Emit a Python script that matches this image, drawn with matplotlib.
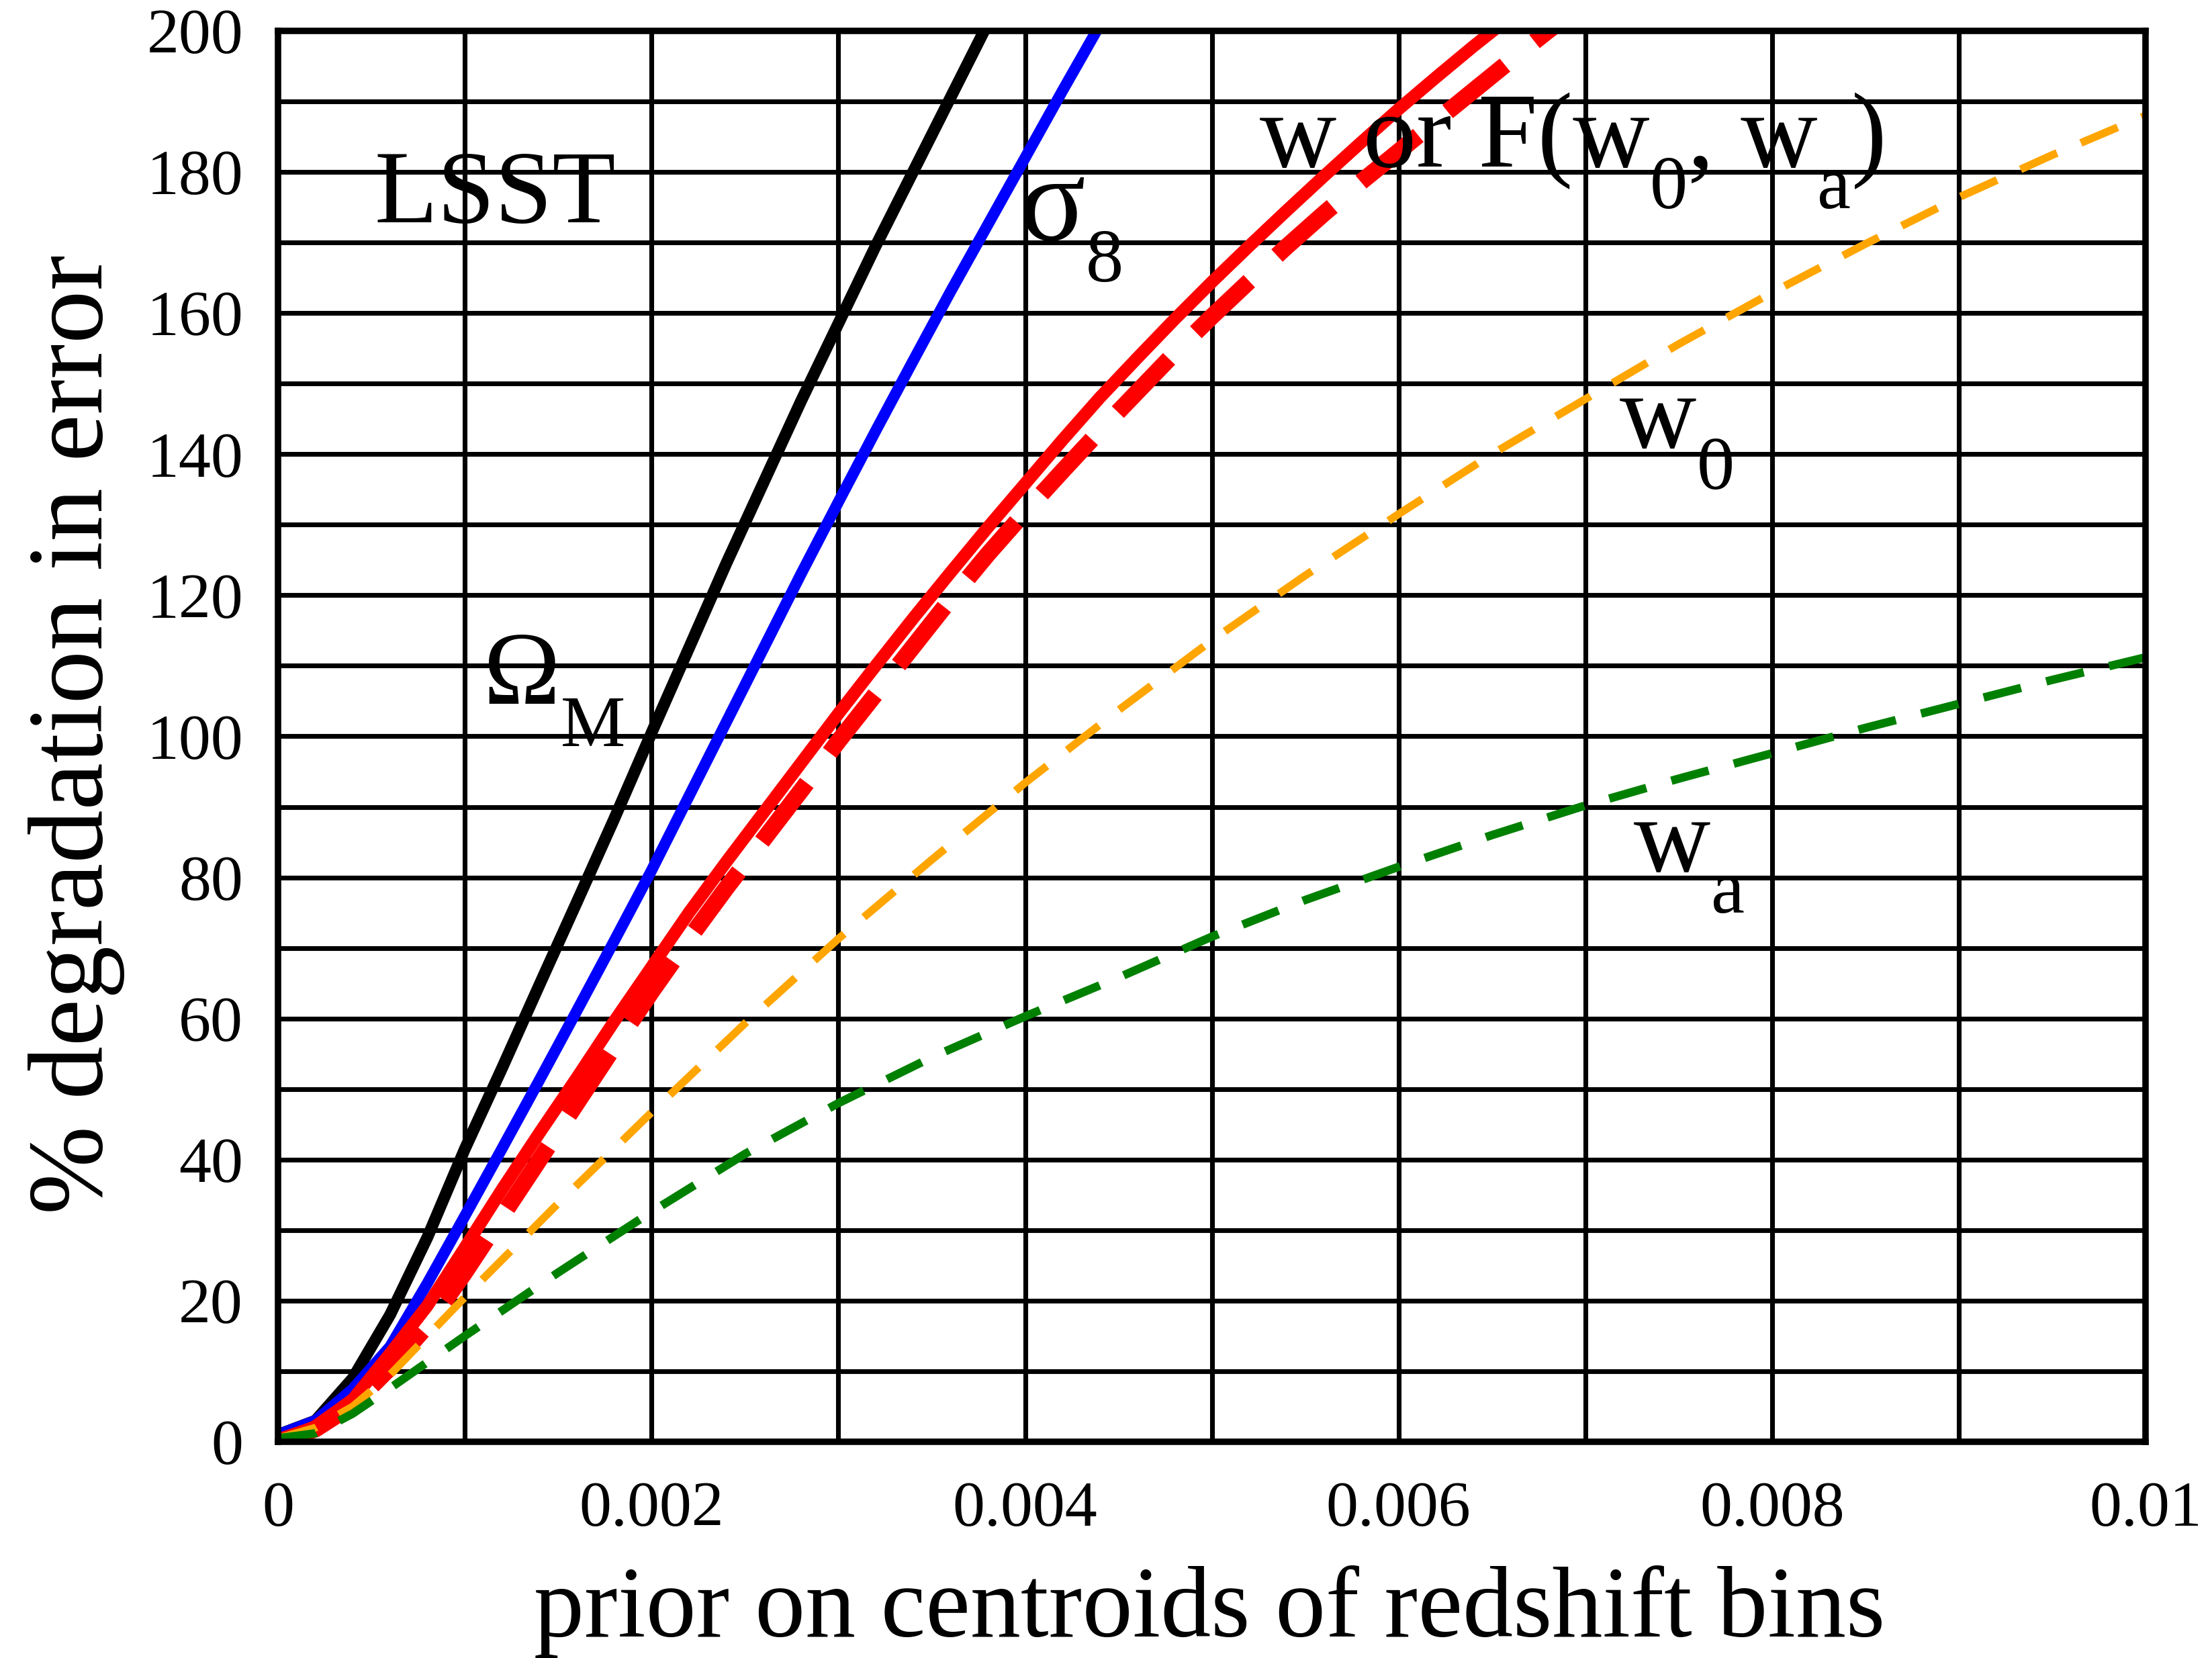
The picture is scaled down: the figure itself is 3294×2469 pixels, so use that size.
import matplotlib
matplotlib.use('Agg')
import matplotlib.pyplot as plt
import matplotlib.transforms as mtransforms

plt.rcParams['font.family'] = ['Liberation Serif', 'DejaVu Serif']

# ---------------- data ----------------
x_omega = [0.0, 0.0002, 0.0004, 0.0006, 0.0008, 0.001, 0.0012, 0.0014, 0.0016, 0.0018,
           0.002, 0.0022, 0.0024, 0.0026, 0.0028, 0.003, 0.0032, 0.0034, 0.0036, 0.0038]
omega_m = [1, 3, 9, 18, 29, 41.5, 53, 64.8, 76.5, 88.3,
           100.5, 112.5, 124.5, 136, 147.5, 158.5, 169.5, 180, 190.5, 201]

x_sigma8 = [0.0, 0.0002, 0.0004, 0.0006, 0.0008, 0.001, 0.0012, 0.0014, 0.0016, 0.0018,
            0.002, 0.0022, 0.0024, 0.0026, 0.0028, 0.003, 0.0032, 0.0034, 0.0036, 0.0038,
            0.004, 0.0042, 0.0044, 0.0046]
sigma8 = [1, 3, 7.5, 13.5, 22.5, 32, 41.6, 51.3, 61.1, 71,
          81, 91.5, 102, 112.5, 123, 133.2, 143.3, 153.2, 163, 172.5,
          182, 191.5, 200.8, 210]

x_w = [0.0, 0.0002, 0.0004, 0.0006, 0.0008, 0.001, 0.0012, 0.0014, 0.0016, 0.0018,
       0.002, 0.0022, 0.0024, 0.0026, 0.0028, 0.003, 0.0032, 0.0034, 0.0036, 0.0038,
       0.004, 0.0042, 0.0044, 0.0046, 0.0048, 0.005, 0.0052, 0.0054, 0.0056, 0.0058,
       0.006, 0.0062, 0.0064, 0.0066]
w_const = [0, 2.2, 6.0, 12.5, 19.3, 27.5, 35.8, 43.8, 51.6, 59.6,
           67.3, 75, 82.2, 89.2, 96.2, 103.2, 110, 116.7, 123.2, 129.6,
           135.8, 142, 148, 153.6, 159.1, 164.4, 169.5, 174.5, 179.4, 184.2,
           188.9, 193.4, 197.8, 202]

x_F = [0.0, 0.0002, 0.0004, 0.0006, 0.0008, 0.001, 0.0012, 0.0014, 0.0016, 0.0018,
       0.002, 0.0022, 0.0024, 0.0026, 0.0028, 0.003, 0.0032, 0.0034, 0.0036, 0.0038,
       0.004, 0.0042, 0.0044, 0.0046, 0.0048, 0.005, 0.0052, 0.0054, 0.0056, 0.0058,
       0.006, 0.0062, 0.0064, 0.0066, 0.0068, 0.007]
F_w0wa = [0, 1.8, 5.2, 10.5, 16.5, 24, 32, 40, 48, 56,
          63.8, 71.3, 78.5, 85.4, 92.3, 99.3, 106, 112.7, 119.4, 125.8,
          131.8, 137.6, 143.3, 148.8, 154.3, 159.5, 164.5, 169.4, 174.1, 178.6,
          182.9, 187.2, 191.5, 195.8, 200, 204]

x_w0wa = [0.0, 0.0002, 0.0004, 0.0006, 0.0008, 0.001, 0.0015, 0.002, 0.0025, 0.003,
          0.0035, 0.004, 0.0045, 0.005, 0.0055, 0.006, 0.0065, 0.007, 0.0075, 0.008,
          0.0085, 0.009, 0.0095, 0.01]
w0 = [0.5, 2, 5, 9.5, 15, 20.5, 33.8, 46.7, 59.3, 71.3,
      82.5, 93.4, 103.7, 113.6, 122.8, 131.5, 140, 147.8, 155.6, 162.9,
      169.8, 176.4, 182.4, 188]
wa = [0.5, 1.2, 4, 7.6, 11.3, 15, 24, 32.6, 40.8, 48,
      54.5, 60.3, 65.8, 71.6, 76.8, 81.5, 86, 90.2, 94, 97.6,
      101.2, 104.6, 108, 111.2]

xtick_values = [0, 0.002, 0.004, 0.006, 0.008, 0.01]
xtick_labels = ['0', '0.002', '0.004', '0.006', '0.008', '0.01']
xgrid_values = [0.001, 0.003, 0.005, 0.007, 0.009]
ytick_values = [0, 20, 40, 60, 80, 100, 120, 140, 160, 180, 200]
ytick_labels = ['0', '20', '40', '60', '80', '100', '120', '140', '160', '180', '200']
ygrid_values = [10, 30, 50, 70, 90, 110, 130, 150, 170, 190]

xlabel = 'prior on centroids of redshift bins'
ylabel = '% degradation in error'

# ---------------- figure ----------------
fig = plt.figure(figsize=(3294 / 300, 2469 / 300), dpi=300)
ax = fig.add_axes([0.1257, 0.1304, 0.8443, 0.8510])

ax.plot(x_omega, omega_m, color='black', lw=4.2, zorder=3)
ax.plot(x_sigma8, sigma8, color='blue', lw=4.0, zorder=3)
ax.plot(x_w, w_const, color='red', lw=4.5, zorder=4)
ax.plot(x_F, F_w0wa, color='red', lw=6.0, dashes=(4.4, 2.25), zorder=5)
ax.plot(x_w0wa, w0, color='orange', lw=2.8, dashes=(5.1, 3.3), zorder=6)
ax.plot(x_w0wa, wa, color='green', lw=3.0, dashes=(4.6, 3.1), zorder=6)

ax.set_xlim(0, 0.01)
ax.set_ylim(0, 200)
ax.set_xticks(xtick_values)
ax.set_xticklabels(xtick_labels)
ax.set_xticks(xgrid_values, minor=True)
ax.set_yticks(ytick_values)
ax.set_yticklabels(ytick_labels)
ax.set_yticks(ygrid_values, minor=True)
ax.tick_params(which='both', length=0)
ax.tick_params(axis='x', labelsize=23, pad=14)
ax.tick_params(axis='y', labelsize=23, pad=12.5)
ax.grid(which='both', color='black', lw=1.7)
ax.set_axisbelow(True)
for sp in ax.spines.values():
    sp.set_linewidth(2.3)
    sp.set_zorder(7)

fig.text(0.5468, 0.0130, xlabel, fontsize=36, ha='center', va='baseline')
fig.text(0.0461, 0.557, ylabel, fontsize=38, rotation=90, rotation_mode='anchor',
         ha='center', va='baseline')

renderer = fig.canvas.get_renderer()


def rich_text(x, y, parts):
    dx = 0.0
    for s, size, dy in parts:
        tr = mtransforms.offset_copy(ax.transData, fig=fig, x=dx, y=dy, units='points')
        t = ax.text(x, y, s, fontsize=size, transform=tr, ha='left', va='baseline', zorder=8)
        bb = t.get_window_extent(renderer=renderer)
        dx += bb.width * 72.0 / fig.dpi


rich_text(0.000514, 172.9, [('LSST', 37, 0)])
rich_text(0.0011, 104.6, [('\u03a9', 37, 0), ('M', 26, -15)])
rich_text(0.00397, 170.4, [('\u03c3', 44, 0), ('8', 27, -15)])
rich_text(0.005257, 180.8, [('w or F(w', 38, 0), ('0', 27, -15), (', w', 38, 0),
                            ('a', 27, -15), (')', 38, 0)])
rich_text(0.007184, 141.0, [('w', 38, 0), ('0', 27, -15)])
rich_text(0.00726, 80.95, [('w', 38, 0), ('a', 27, -15)])

fig.savefig('out.png', dpi=300)
